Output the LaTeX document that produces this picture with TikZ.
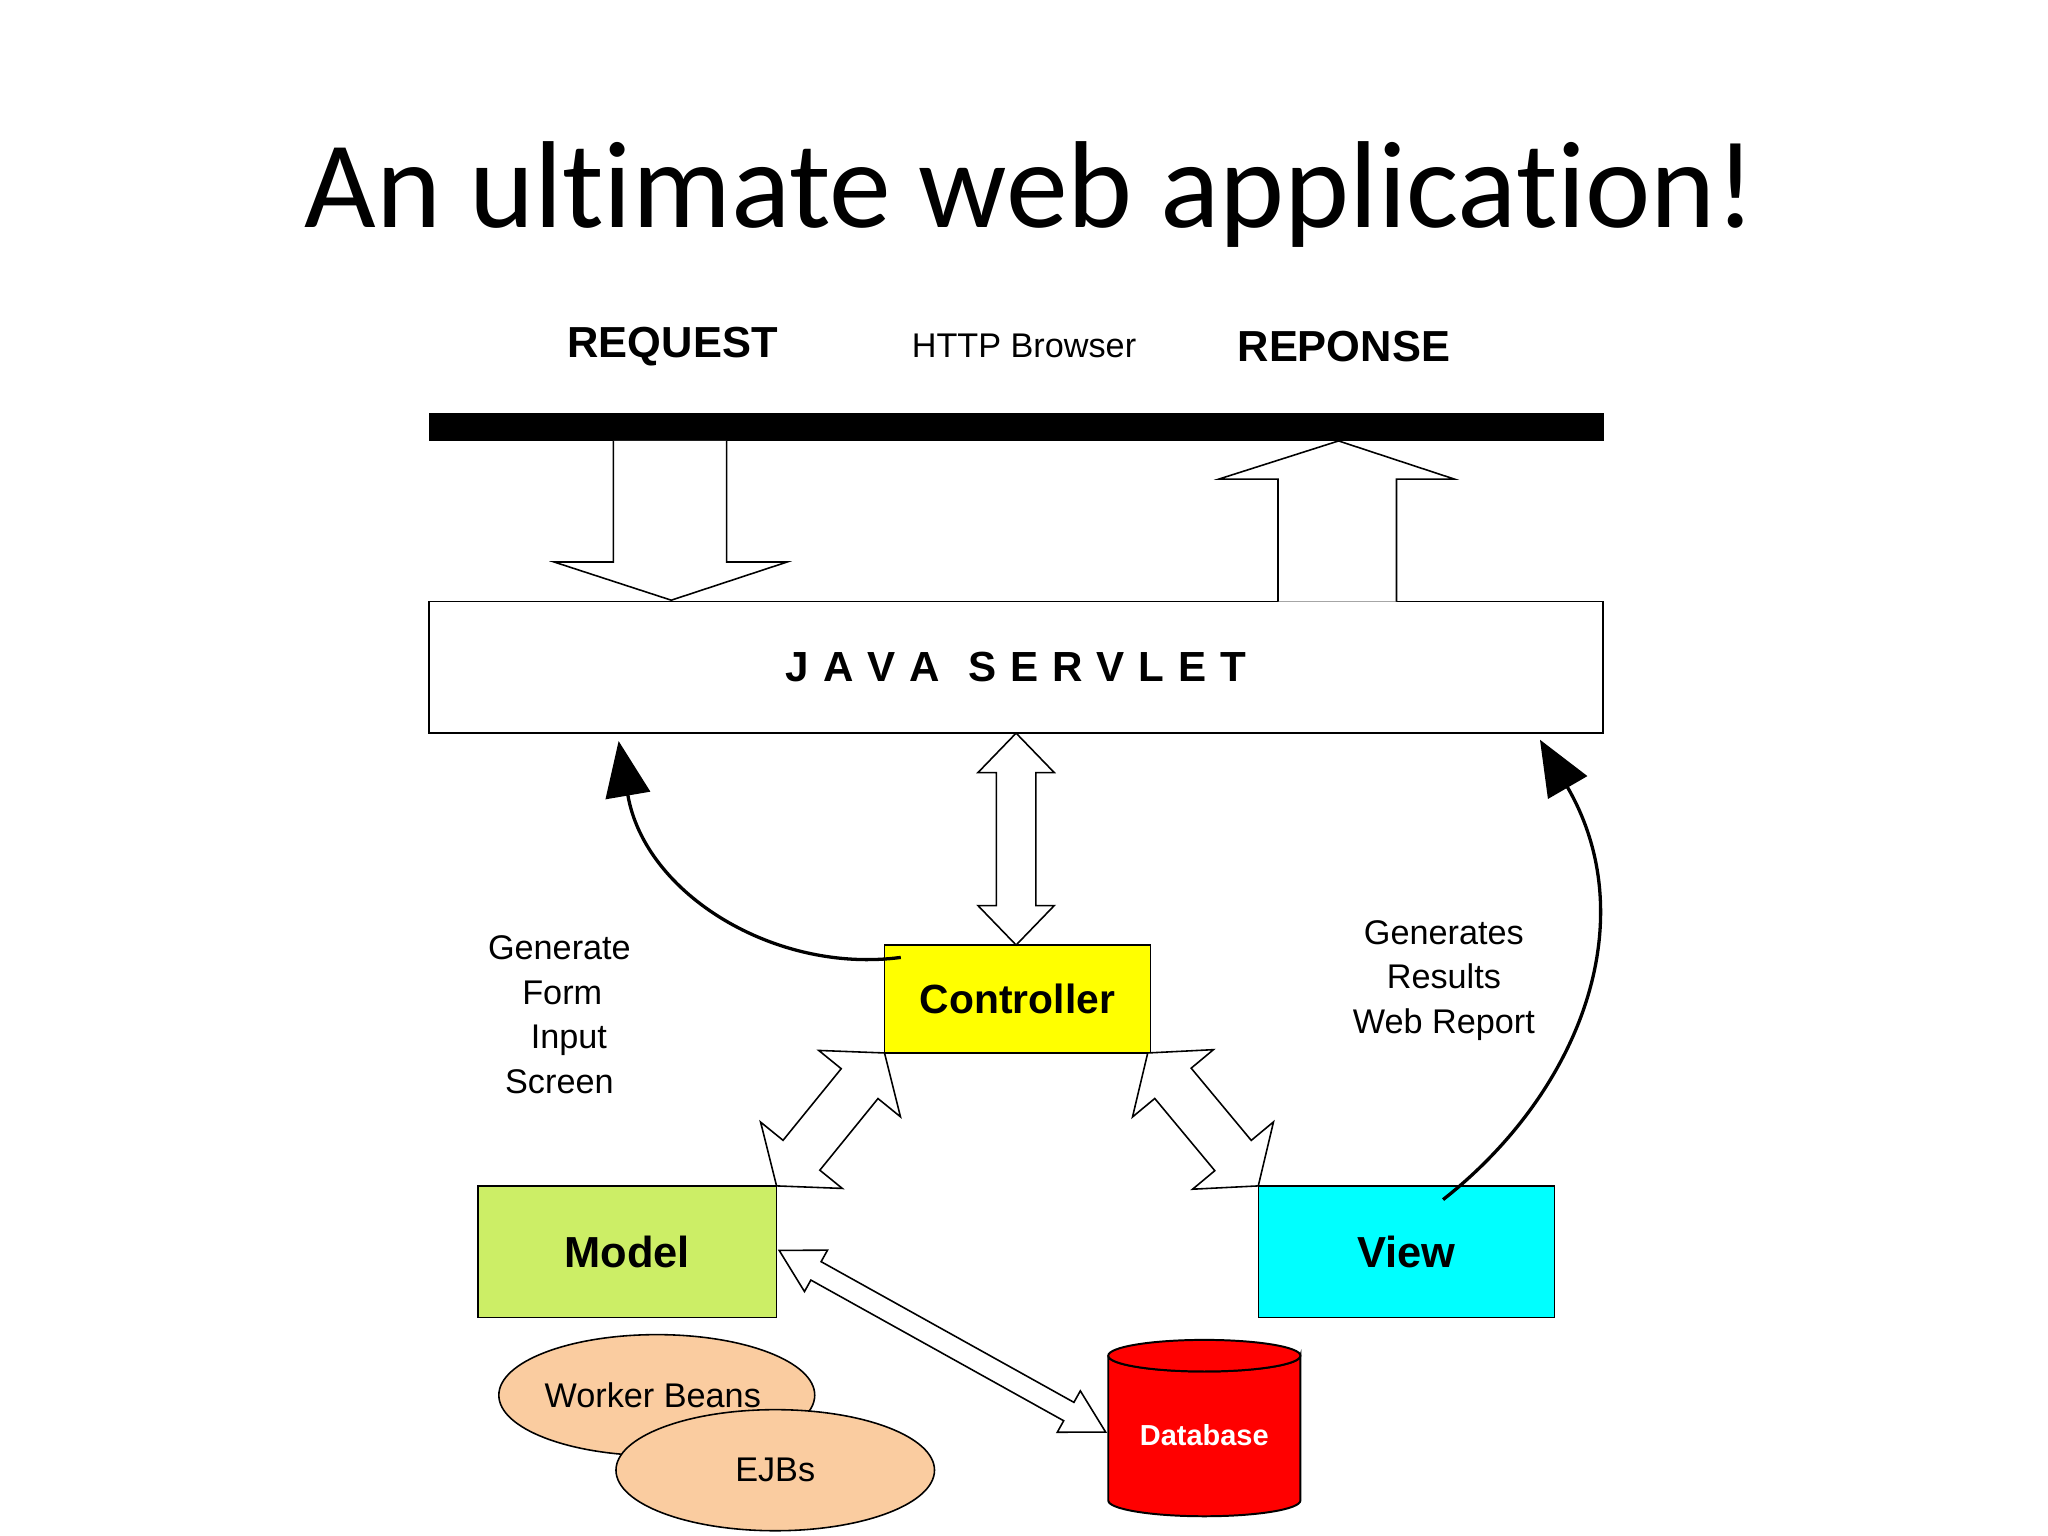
\documentclass[tikz,border=0pt]{standalone}
\usepackage{fontspec}
\setmainfont{Liberation Sans}
\newfontfamily\titlefont[Ligatures=NoCommon]{Carlito}
\usetikzlibrary{calc,shapes.geometric,arrows.meta}
\definecolor{modelc}{RGB}{204,238,102}
\definecolor{beanc}{RGB}{250,204,160}
\definecolor{viewc}{RGB}{0,255,255}
\definecolor{ctrlc}{RGB}{255,255,0}
\definecolor{dbc}{RGB}{255,0,0}
\newcommand\dbl[5]{% a b shafthalf headhalf headlen
 \draw[fill=white,line width=1.2pt] (#1) -- ($(#1)!#5!(#2)!#4!90:(#2)$) -- ($(#1)!#5!(#2)!#3!90:(#2)$)
  -- ($(#2)!#5!(#1)!#3!-90:(#1)$) -- ($(#2)!#5!(#1)!#4!-90:(#1)$) -- (#2)
  -- ($(#2)!#5!(#1)!#4!90:(#1)$) -- ($(#2)!#5!(#1)!#3!90:(#1)$)
  -- ($(#1)!#5!(#2)!#3!-90:(#2)$) -- ($(#1)!#5!(#2)!#4!-90:(#2)$) -- cycle;}
\begin{document}
\begin{tikzpicture}[x=1pt,y=-1pt,
 box/.style={draw,line width=1.2pt,inner sep=0pt},
 lbl/.style={font=\fontsize{26}{34}\selectfont,align=center},
 cur/.style={line width=2.5pt,-{Triangle[length=42pt,width=34pt]}}]
\useasboundingbox (0,0) rectangle (1556,1167);
\node[font=\titlefont\fontsize{94}{110}\selectfont] (title) at (783,148) {An ultimate web application!};
\node[font=\bfseries\fontsize{33}{40}\selectfont] (req) at (511,263) {REQUEST};
\node[font=\fontsize{26}{32}\selectfont] (http) at (778,263) {HTTP Browser};
\node[font=\bfseries\fontsize{33}{40}\selectfont] (resp) at (1021,263) {REPONSE};
\fill (326,314) rectangle (1219,335);
\node[box,minimum width=892pt,minimum height=100pt,font=\bfseries\fontsize{32}{38}\selectfont] (serv) at (772,507) {J\,\,A\,\,V\,\,A\,\,\,\,S\,\,E\,\,R\,\,V\,\,L\,\,E\,\,T};
\draw[fill=white,line width=1.2pt] (466,335) -- (466,427) -- (421,427) -- (510,456) -- (598,427) -- (552,427) -- (552,335);
\draw[fill=white,line width=1.2pt] (971,457) -- (971,364) -- (926,364) -- (1017,335) -- (1105,364) -- (1061,364) -- (1061,457);
\node[box,fill=ctrlc,minimum width=202pt,minimum height=82pt,font=\bfseries\fontsize{31}{36}\selectfont] (ctrl) at (773,759) {Controller};
\node[box,fill=modelc,minimum width=227pt,minimum height=100pt,font=\bfseries\fontsize{33}{38}\selectfont] (model) at (476.5,951) {Model};
\node[box,fill=viewc,minimum width=225pt,minimum height=100pt,font=\bfseries\fontsize{33}{38}\selectfont] (view) at (1068.5,951) {View};
\coordinate (s1) at (772,557); \coordinate (c1) at (772,718);
\dbl{s1}{c1}{15pt}{29pt}{30pt}
\coordinate (c2) at (672,800); \coordinate (m2) at (590,901);
\dbl{c2}{m2}{18pt}{40pt}{30pt}
\coordinate (c3) at (872,800); \coordinate (v3) at (956,901);
\dbl{c3}{v3}{18pt}{40pt}{30pt}
\node[ellipse,draw,line width=1.2pt,fill=beanc,minimum width=240pt,minimum height=92pt] (wb) at (499,1060) {};
\node (wbt) at (496,1060) [font=\fontsize{26}{30}\selectfont] {Worker Beans};
\node[ellipse,draw,line width=1.2pt,fill=beanc,minimum width=242pt,minimum height=92pt,font=\fontsize{26}{30}\selectfont] (ejb) at (589,1117) {EJBs};
\draw[line width=1.5pt,fill=dbc] (842,1030) -- (842,1140) arc[start angle=180,end angle=360,x radius=73pt,y radius=12pt] -- (988,1030) arc[start angle=0,end angle=-180,x radius=73pt,y radius=12pt];
\draw[line width=1.5pt,fill=dbc] (915,1030) ellipse[x radius=73pt,y radius=12pt];
\node[text=white,font=\bfseries\fontsize{22}{26}\selectfont] (db) at (915,1090) {Database};
\coordinate (m4) at (592,950); \coordinate (d4) at (840,1088);
\dbl{m4}{d4}{8pt}{18pt}{32pt}
\draw[cur] (ctrl.north west) ++(13,10) coordinate (ca) .. controls (590,740) and (490,680) .. (470,563);
\draw[cur] (view.north west) ++(141,11) coordinate (va) .. controls (1200,830) and (1250,700) .. (1170,562);
\node[lbl] (gf) at (425,771) {Generate\\\,Form\\\;\;Input\\Screen};
\node[lbl] (gr) at (1097,745) {Generates\\Results\\Web Report};
\end{tikzpicture}
\end{document}
